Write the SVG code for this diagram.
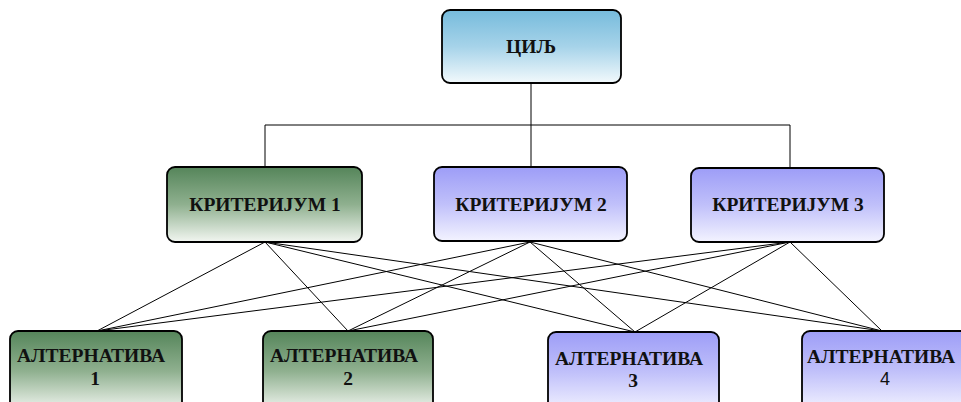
<svg xmlns="http://www.w3.org/2000/svg" width="961" height="402" viewBox="0 0 961 402">
<defs>
<linearGradient id="gBlue" x1="0" y1="0" x2="0" y2="1"><stop offset="0" stop-color="#76bbdc"/><stop offset="0.5" stop-color="#a6d3e9"/><stop offset="1" stop-color="#f2f9fc"/></linearGradient>
<linearGradient id="gGreen" x1="0" y1="0" x2="0" y2="1"><stop offset="0" stop-color="#55855a"/><stop offset="0.5" stop-color="#8fb08f"/><stop offset="1" stop-color="#f2f6f1"/></linearGradient>
<linearGradient id="gLav" x1="0" y1="0" x2="0" y2="1"><stop offset="0" stop-color="#9d9df7"/><stop offset="0.5" stop-color="#c0c0fa"/><stop offset="1" stop-color="#f3f3ff"/></linearGradient>
</defs>
<style>
.box{stroke:#000;stroke-width:1.8}
.t{font-family:"Liberation Serif","Times New Roman",serif;font-weight:bold;font-size:19.5px;fill:#111;text-anchor:middle}
.s{font-family:"Liberation Sans",Arial,sans-serif;font-size:18px;fill:#111;text-anchor:middle}
.c{stroke:#000;stroke-width:1;fill:none}
</style>
<g id="connectors">
<path class="c" d="M531,83 V125 M265,125 H790 M265,125 V167 M531,125 V167 M790,125 V168"/>
<path class="c" d="M265,242 L97,331 M265,242 L348,331 M265,242 L635,332 M265,242 L882,331"/>
<path class="c" d="M530,242 L97,331 M530,242 L348,331 M530,242 L635,332 M530,242 L882,331"/>
<path class="c" d="M790,242 L97,331 M790,242 L348,331 M790,242 L635,332 M790,242 L882,331"/>
</g>
<g id="goal">
<rect class="box" x="442" y="10" width="179" height="73" rx="8" fill="url(#gBlue)"/>
<text class="t" x="531" y="53">ЦИЉ</text>
</g>
<g id="criterion1">
<rect class="box" x="167" y="167" width="195" height="75" rx="8" fill="url(#gGreen)"/>
<text class="t" x="265" y="211">КРИТЕРИЈУМ 1</text>
</g>
<g id="criterion2">
<rect class="box" x="434" y="167" width="193" height="74" rx="8" fill="url(#gLav)"/>
<text class="t" x="531" y="211">КРИТЕРИЈУМ 2</text>
</g>
<g id="criterion3">
<rect class="box" x="691" y="168" width="193" height="74" rx="8" fill="url(#gLav)"/>
<text class="t" x="788" y="211">КРИТЕРИЈУМ 3</text>
</g>
<g id="alternative1">
<rect class="box" x="10" y="331" width="172" height="80" rx="8" fill="url(#gGreen)"/>
<text class="t" x="91" y="362">АЛТЕРНАТИВА</text>
<text class="t" x="95" y="385">1</text>
</g>
<g id="alternative2">
<rect class="box" x="263" y="331" width="170" height="80" rx="8" fill="url(#gGreen)"/>
<text class="t" x="344" y="362">АЛТЕРНАТИВА</text>
<text class="t" x="348" y="385">2</text>
</g>
<g id="alternative3">
<rect class="box" x="548" y="332" width="171" height="80" rx="8" fill="url(#gLav)"/>
<text class="t" x="629" y="365">АЛТЕРНАТИВА</text>
<text class="t" x="633" y="387">3</text>
</g>
<g id="alternative4">
<rect class="box" x="802" y="331" width="170" height="80" rx="8" fill="url(#gLav)"/>
<text class="t" x="881" y="363">АЛТЕРНАТИВА</text>
<text class="s" x="885" y="385">4</text>
</g>
</svg>
